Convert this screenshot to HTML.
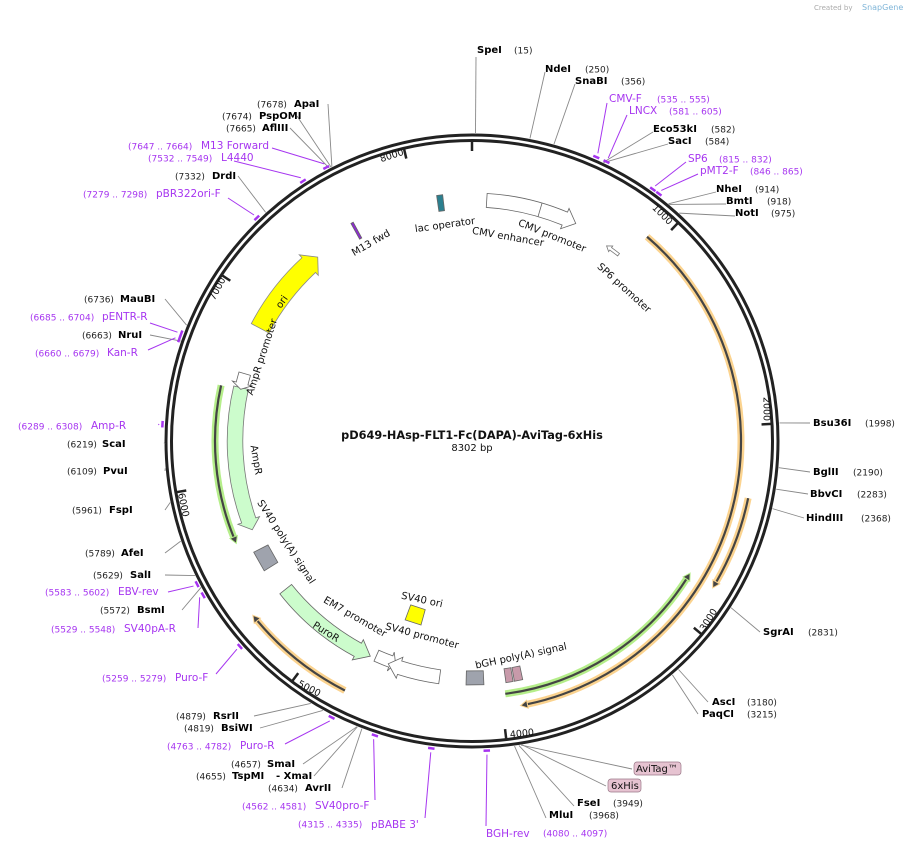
<!DOCTYPE html>
<html><head><meta charset="utf-8"><style>
html,body{margin:0;padding:0;background:#fff}
svg{display:block;font-family:"DejaVu Sans","Liberation Sans",sans-serif}
.e{font-weight:bold;font-size:10px;fill:#000}
.n{font-size:9px;fill:#222}
.p{font-size:10.5px;fill:#a635f0}
.pn{font-size:9px;fill:#a635f0}
.f{font-size:10px;fill:#111}
</style></head><body>
<svg id="s" width="911" height="850" viewBox="0 0 911 850" xmlns="http://www.w3.org/2000/svg">
<g id="g"></g>
<text x="814" y="10" font-size="7" fill="#aaa">Created by</text><text x="862" y="10" font-size="8" fill="#7fb5d8">SnapGene</text>
<g dominant-baseline="middle">
<text class="e" x="477" y="50">SpeI</text><text class="n" x="514" y="51">(15)</text>
<text class="e" x="545" y="69">NdeI</text><text class="n" x="585" y="70">(250)</text>
<text class="e" x="575" y="81">SnaBI</text><text class="n" x="621" y="82">(356)</text>
<text class="p" x="609" y="99">CMV-F</text><text class="pn" x="657" y="100">(535 .. 555)</text>
<text class="p" x="629" y="111">LNCX</text><text class="pn" x="669" y="112">(581 .. 605)</text>
<text class="e" x="653" y="129">Eco53kI</text><text class="n" x="711" y="130">(582)</text>
<text class="e" x="668" y="141">SacI</text><text class="n" x="705" y="142">(584)</text>
<text class="p" x="688" y="159">SP6</text><text class="pn" x="719" y="160">(815 .. 832)</text>
<text class="p" x="700" y="171">pMT2-F</text><text class="pn" x="750" y="172">(846 .. 865)</text>
<text class="e" x="716" y="189">NheI</text><text class="n" x="755" y="190">(914)</text>
<text class="e" x="726" y="201">BmtI</text><text class="n" x="767" y="202">(918)</text>
<text class="e" x="735" y="213">NotI</text><text class="n" x="771" y="214">(975)</text>
<text class="e" x="813" y="423">Bsu36I</text><text class="n" x="865" y="424">(1998)</text>
<text class="e" x="813" y="472">BglII</text><text class="n" x="853" y="473">(2190)</text>
<text class="e" x="810" y="494">BbvCI</text><text class="n" x="857" y="495">(2283)</text>
<text class="e" x="806" y="518">HindIII</text><text class="n" x="861" y="519">(2368)</text>
<text class="e" x="763" y="632">SgrAI</text><text class="n" x="808" y="633">(2831)</text>
<text class="e" x="712" y="702">AscI</text><text class="n" x="747" y="703">(3180)</text>
<text class="e" x="702" y="714">PaqCI</text><text class="n" x="747" y="715">(3215)</text>
<rect x="634" y="762" width="47" height="13" rx="3" fill="#e6c3d1" stroke="#9a7888" stroke-width="0.7"/><text class="f" x="636" y="769" font-size="9.5">AviTag™</text>
<rect x="608" y="779" width="33" height="13" rx="3" fill="#e6c3d1" stroke="#9a7888" stroke-width="0.7"/><text class="f" x="611" y="786" font-size="9.5">6xHis</text>
<text class="e" x="577" y="803">FseI</text><text class="n" x="613" y="804">(3949)</text>
<text class="e" x="549" y="815">MluI</text><text class="n" x="589" y="816">(3968)</text>
<text class="p" x="486" y="834">BGH-rev</text><text class="pn" x="543" y="834">(4080 .. 4097)</text>
<text class="pn" x="298" y="825">(4315 .. 4335)</text><text class="p" x="371" y="825">pBABE 3'</text>
<text class="pn" x="242" y="807">(4562 .. 4581)</text><text class="p" x="315" y="806">SV40pro-F</text>
<text class="n" x="268" y="789">(4634)</text><text class="e" x="305" y="788">AvrII</text>
<text class="n" x="196" y="777">(4655)</text><text class="e" x="232" y="776">TspMI</text><text class="e" x="276" y="776">- XmaI</text>
<text class="n" x="231" y="765">(4657)</text><text class="e" x="267" y="764">SmaI</text>
<text class="pn" x="167" y="747">(4763 .. 4782)</text><text class="p" x="240" y="746">Puro-R</text>
<text class="n" x="184" y="729">(4819)</text><text class="e" x="221" y="728">BsiWI</text>
<text class="n" x="176" y="717">(4879)</text><text class="e" x="213" y="716">RsrII</text>
<text class="pn" x="102" y="679">(5259 .. 5279)</text><text class="p" x="175" y="678">Puro-F</text>
<text class="pn" x="51" y="630">(5529 .. 5548)</text><text class="p" x="124" y="629">SV40pA-R</text>
<text class="n" x="100" y="611">(5572)</text><text class="e" x="137" y="610">BsmI</text>
<text class="pn" x="45" y="593">(5583 .. 5602)</text><text class="p" x="118" y="592">EBV-rev</text>
<text class="n" x="93" y="576">(5629)</text><text class="e" x="130" y="575">SalI</text>
<text class="n" x="85" y="554">(5789)</text><text class="e" x="121" y="553">AfeI</text>
<text class="n" x="72" y="511">(5961)</text><text class="e" x="109" y="510">FspI</text>
<text class="n" x="67" y="472">(6109)</text><text class="e" x="103" y="471">PvuI</text>
<text class="n" x="67" y="445">(6219)</text><text class="e" x="102" y="444">ScaI</text>
<text class="pn" x="18" y="427">(6289 .. 6308)</text><text class="p" x="91" y="426">Amp-R</text>
<text class="pn" x="35" y="354">(6660 .. 6679)</text><text class="p" x="107" y="353">Kan-R</text>
<text class="n" x="82" y="336">(6663)</text><text class="e" x="118" y="335">NruI</text>
<text class="pn" x="30" y="318">(6685 .. 6704)</text><text class="p" x="102" y="317">pENTR-R</text>
<text class="n" x="84" y="300">(6736)</text><text class="e" x="120" y="299">MauBI</text>
<text class="pn" x="83" y="195">(7279 .. 7298)</text><text class="p" x="156" y="194">pBR322ori-F</text>
<text class="n" x="175" y="177">(7332)</text><text class="e" x="212" y="176">DrdI</text>
<text class="pn" x="148" y="159">(7532 .. 7549)</text><text class="p" x="221" y="158">L4440</text>
<text class="pn" x="128" y="147">(7647 .. 7664)</text><text class="p" x="201" y="146">M13 Forward</text>
<text class="n" x="226" y="129">(7665)</text><text class="e" x="262" y="128">AflIII</text>
<text class="n" x="222" y="117">(7674)</text><text class="e" x="259" y="116">PspOMI</text>
<text class="n" x="257" y="105">(7678)</text><text class="e" x="294" y="104">ApaI</text>
</g>
<g font-size="10" fill="#111" text-anchor="middle" dominant-baseline="middle">
<text x="371" y="243" transform="rotate(-30 371 243)">M13 fwd</text>
<text x="445" y="225" transform="rotate(-8 445 225)">lac operator</text>
<text x="508" y="237" transform="rotate(10 508 237)">CMV enhancer</text>
<text x="552" y="236" transform="rotate(22 552 236)">CMV promoter</text>
<text x="624" y="288" transform="rotate(42 624 288)">SP6 promoter</text>
<text x="282" y="302" transform="rotate(-55 282 302)">ori</text>
<text x="262" y="357" transform="rotate(-72 262 357)">AmpR promoter</text>
<text x="256" y="460" transform="rotate(80 256 460)">AmpR</text>
<text x="286" y="542" transform="rotate(57 286 542)">SV40 poly(A) signal</text>
<text x="355" y="617" transform="rotate(30 355 617)">EM7 promoter</text>
<text x="326" y="632" transform="rotate(32 326 632)">PuroR</text>
<text x="422" y="600" transform="rotate(12 422 600)">SV40 ori</text>
<text x="422" y="636" transform="rotate(15 422 636)">SV40 promoter</text>
<text x="521" y="656" transform="rotate(-12 521 656)">bGH poly(A) signal</text>
<text x="662" y="215" transform="rotate(45 662 215)" font-size="9.5">1000</text>
<text x="766" y="409" transform="rotate(90 766 409)" font-size="9.5">2000</text>
<text x="709" y="620" transform="rotate(-58 709 620)" font-size="9.5">3000</text>
<text x="522" y="734" transform="rotate(-6 522 734)" font-size="9.5">4000</text>
<text x="309" y="689" transform="rotate(27 309 689)" font-size="9.5">5000</text>
<text x="183" y="505" transform="rotate(78 183 505)" font-size="9.5">6000</text>
<text x="218" y="289" transform="rotate(-62 218 289)" font-size="9.5">7000</text>
<text x="392" y="156" transform="rotate(-18 392 156)" font-size="9.5">8000</text>
<text x="472" y="436" font-weight="bold" font-size="11.3">pD649-HAsp-FLT1-Fc(DAPA)-AviTag-6xHis</text>
<text x="472" y="448">8302 bp</text>
</g>
</svg>
<script>
var cx=472,cy=441,N=8302,NS="http://www.w3.org/2000/svg",G=document.getElementById('g');
function P(r,t){t=t*Math.PI/180;return [cx+r*Math.sin(t),cy-r*Math.cos(t)];}
function el(n,a){var e=document.createElementNS(NS,n);for(var k in a)e.setAttribute(k,a[k]);G.appendChild(e);return e;}
function A(bp){return bp/N*360;}
function arc(r,a1,a2){var p=P(r,a1),q=P(r,a2),l=Math.abs(a2-a1)>180?1:0,sw=a2>a1?1:0;return 'M'+p+' A'+r+' '+r+' 0 '+l+' '+sw+' '+q;}
function band(r,w,a1,a2,head,fill,stroke,hw){var d=a2>a1?1:-1,h=head*180/Math.PI/r*d;var ab=a2-h;hw=(hw===undefined)?4:hw;
 var s='M'+P(r+w/2,a1)+' A'+r+' '+r+' 0 0 '+(d>0?1:0)+' '+P(r+w/2,ab);
 if(head){s+=' L'+P(r+w/2+hw,ab)+' L'+P(r,a2)+' L'+P(r-w/2-hw,ab)+' L'+P(r-w/2,ab);}else s+=' L'+P(r-w/2,ab);
 s+=' A'+r+' '+r+' 0 0 '+(d>0?0:1)+' '+P(r-w/2,a1)+'Z';el('path',{d:s,fill:fill,stroke:stroke||'#777','stroke-width':0.8});}
function thin(r,a1,a2,glow){var d=a2>a1?1:-1;var ab=a2-d*7*180/Math.PI/r;
 el('path',{d:arc(r,a1,ab),fill:'none',stroke:glow,'stroke-width':7,'stroke-linecap':'butt'});
 el('path',{d:arc(r,a1,ab),fill:'none',stroke:'#444','stroke-width':2.2});
 el('path',{d:'M'+P(r+4,ab)+' L'+P(r,a2)+' L'+P(r-4,ab)+'Z',fill:'#444',stroke:glow,'stroke-width':1});}
thin(269,40.6,169.6,'#fbd38f');
thin(282,101.7,121.4,'#fbd38f');
thin(255,172.5,121.2,'#b5ee8a');
thin(257,282.5,246.5,'#b5ee8a');
thin(280,207,231.5,'#fbd38f');
el('circle',{cx:cx,cy:cy,r:306,fill:'none',stroke:'#222','stroke-width':3});
el('circle',{cx:cx,cy:cy,r:300.5,fill:'none',stroke:'#222','stroke-width':3});
for(var i=0;i<=8;i++){var t=A(i*1000);el('line',{x1:P(300,t)[0],y1:P(300,t)[1],x2:P(290,t)[0],y2:P(290,t)[1],stroke:'#222','stroke-width':2.5});}
band(240,20,298,320,12,'#ffff00','#888');
band(237,15,283,248,10,'#ccfccc','#777');
band(237,12,286.5,282.6,6,'#fff','#666');
band(241,14,3.5,25.5,12,'#fff','#666');
el('line',{x1:P(234,16.4)[0],y1:P(234,16.4)[1],x2:P(248,16.4)[0],y2:P(248,16.4)[1],stroke:'#666','stroke-width':0.8});
band(238,15,231.5,205.3,14,'#ccfccc','#666');
band(235,12,204,199,5,'#fff','#666');
band(238,14,187.8,200.6,12,'#fff','#666');
band(237,3,38.2,34.6,5,'#fff','#777',2);
function box(r,w,a1,a2,fill){var s='M'+P(r+w/2,a1)+' L'+P(r+w/2,a2)+' L'+P(r-w/2,a2)+' L'+P(r-w/2,a1)+'Z';el('path',{d:s,fill:fill,stroke:'#666','stroke-width':0.8});}
box(237,16,238,243,'#9fa3ad');
box(237,14,177.2,181.4,'#9fa3ad');
box(237,14,168,170,'#c89aaa');box(237,14,170.3,172,'#c89aaa');
box(183,16,195.5,200.5,'#ffff00');
box(240,16,351.8,353.2,'#2b7f8f');
box(240,18,330.9,331.5,'#8c2bd0');
var L=[[15,476,57],[250,545,72],[356,575,84],[582,653,132],[584,668,144],[914,716,192],[918,726,204],[975,735,216],
[1998,810,423],[2190,810,472],[2283,808,494],[2368,804,518],[2831,760,632],[3180,708,702],[3215,698,714],
[3940,632,769],[3935,606,786],[3949,574,806],[3968,546,818],[4634,342,788],[4655,314,776],[4657,303,764],[4819,260,728],[4879,254,716],
[5572,182,610],[5629,165,575],[5789,165,553],[5961,165,510],[6109,165,471],[6219,165,444],[6663,150,335],[6736,165,299],
[7332,238,176],[7665,290,128],[7674,297,116],[7678,328,104]];
L.forEach(function(a){var t=A(a[0]),p=P(308,t);el('line',{x1:p[0],y1:p[1],x2:a[1],y2:a[2],stroke:'#888','stroke-width':0.9});});
var PL=[[545,607,103],[593,627,115],[823,686,162],[855,698,174],[4088,486,826],[4325,425,818],[4572,375,800],[4772,285,744],[5269,216,674],[5538,198,628],[5592,168,592],[6298,159,425],[6669,148,350],[6694,150,323],[7288,228,198],[7540,234,161],[7655,272,148]];
PL.forEach(function(a){var t=A(a[0]),q=P(314,t);el('line',{x1:q[0],y1:q[1],x2:a[1],y2:a[2],stroke:'#a635f0','stroke-width':1});
 var u=P(310,t-0.6),v=P(310,t+0.6);el('line',{x1:u[0],y1:u[1],x2:v[0],y2:v[1],stroke:'#a635f0','stroke-width':2.5});});
</script>
</body></html>
